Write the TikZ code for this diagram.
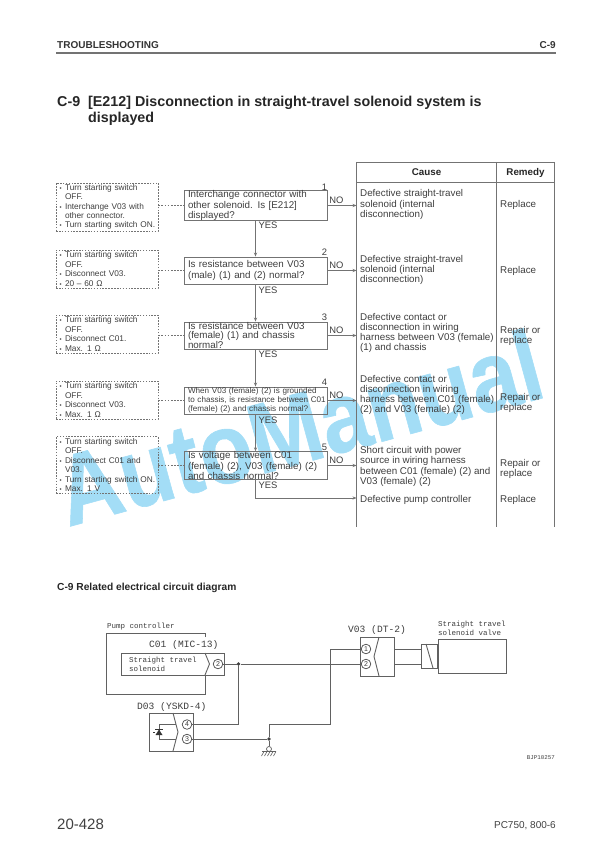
\documentclass[tikz,border=0pt]{standalone}
\usepackage{fontspec}
\setmainfont{Liberation Sans}
\newfontfamily\plotfont{Liberation Mono}
\newfontfamily\markfont[FakeBold=0.6]{Liberation Sans Bold}
\usetikzlibrary{arrows.meta}
\definecolor{inkgrey}{RGB}{62,62,62}
\definecolor{rulegrey}{RGB}{115,115,115}
\definecolor{wmblue}{RGB}{163,221,246}
\newcommand{\nb}{\makebox[6.5pt][l]{\hspace{1pt}\fontsize{6}{6}\selectfont\textbullet}}
\newcommand{\nh}{\hspace*{6.5pt}}
\newcommand{\fs}[2]{\fontsize{#1}{#2}\selectfont}
\tikzset{
  notebox/.style={draw=rulegrey,line width=0.7pt,dash pattern=on 1.6pt off 1.3pt,minimum width=102pt,inner sep=0pt,inner xsep=2.5pt,text width=97pt,align=left,text=inkgrey,font=\fs{8.3}{9.4}},
  chkbox/.style={draw=rulegrey,line width=0.9pt,minimum width=143pt,inner sep=0pt,inner xsep=4pt,text width=135pt,align=left,text=inkgrey,font=\fs{9.8}{8.9}},
  tabtext/.style={anchor=west,inner sep=0pt,align=left,text=inkgrey,font=\fs{9.8}{10.3}},
  headtext/.style={anchor=base,inner sep=0pt,font=\fs{9.8}{10}\bfseries,text=black!85},
  flowlabel/.style={inner sep=0pt,text=inkgrey,font=\fs{9.4}{10}},
  flowline/.style={draw=rulegrey,line width=0.8pt,-{Stealth[length=4pt,width=3.2pt]}},
  tieline/.style={draw=rulegrey,line width=0.7pt,dash pattern=on 1.8pt off 1.3pt},
  tabline/.style={draw=rulegrey,line width=0.8pt},
  wire/.style={draw=black!62,line width=0.9pt},
  pin/.style={circle,draw=black!70,line width=0.7pt,inner sep=0pt,minimum size=9.6pt,fill=white,font=\fs{7}{8},text=inkgrey},
  plotlabel/.style={inner sep=0pt,anchor=west,align=left,text=inkgrey,font=\plotfont\fs{7.5}{9}},
  conlabel/.style={inner sep=0pt,anchor=west,text=inkgrey,font=\plotfont\fs{9.6}{10}},
  joint/.style={circle,fill=black!75,inner sep=0pt,minimum size=3.6pt}
}
\begin{document}
\begin{tikzpicture}[x=1pt,y=-1pt,line cap=butt,line join=miter]
\useasboundingbox (0,0) rectangle (612,866);
\node[anchor=base west,rotate=15.2,inner sep=0pt,text=wmblue,font=\markfont\fs{87}{87}] (mark) at (68,527) {\scalebox{1}[1.15]{AutoManual}};
\node[anchor=west,inner sep=0pt,text=black!80,font=\fs{10}{11}\bfseries] (headl) at (57,45.5) {TROUBLESHOOTING};
\node[anchor=east,inner sep=0pt,text=black!80,font=\fs{10}{11}\bfseries] (headr) at (556,45.5) {C-9};
\coordinate (rulel) at (56,53);
\coordinate (ruler) at (556,53);
\draw[rulegrey,line width=1.4pt] (rulel) -- (ruler);
\node[anchor=west,inner sep=0pt,text=black!85,font=\fs{14.3}{15}\bfseries] (title) at (57,103) {\makebox[31pt][l]{C-9}[E212] Disconnection in straight-travel solenoid system is};
\node[anchor=west,inner sep=0pt,text=black!85,font=\fs{14.3}{15}\bfseries] (titleb) at (88,118.5) {displayed};
\coordinate (tabl) at (356.5,162);
\coordinate (tabm) at (496.5,162);
\coordinate (tabr) at (554.5,162);
\coordinate (tabbl) at (356.5,527);
\coordinate (tabbm) at (496.5,527);
\coordinate (tabbr) at (554.5,527);
\coordinate (rowl) at (356.5,182);
\coordinate (rowr) at (554.5,182);
\draw[tabline] (tabl) -- (tabr);
\draw[tabline] (rowl) -- (rowr);
\draw[tabline] (tabl) -- (tabbl);
\draw[tabline] (tabm) -- (tabbm);
\draw[tabline] (tabr) -- (tabbr);
\node[headtext] (cause) at (426.5,176) {Cause};
\node[headtext] (remedy) at (525.5,176) {Remedy};
\node[notebox,minimum height=48pt] (note1) at (107,207) {\nb Turn starting switch\\\nh OFF.\\\nb Interchange V03 with\\\nh other connector.\\\nb Turn starting switch ON.};
\node[notebox,minimum height=38pt] (note2) at (107,269) {\nb Turn starting switch\\\nh OFF.\\\nb Disconnect V03.\\\nb 20 – 60 Ω};
\node[notebox,minimum height=38pt] (note3) at (107,334) {\nb Turn starting switch\\\nh OFF.\\\nb Disconnect C01.\\\nb Max. 1 Ω};
\node[notebox,minimum height=38pt] (note4) at (107,400) {\nb Turn starting switch\\\nh OFF.\\\nb Disconnect V03.\\\nb Max. 1 Ω};
\node[notebox,minimum height=56.5pt] (note5) at (107,465) {\nb Turn starting switch\\\nh OFF.\\\nb Disconnect C01 and\\\nh V03.\\\nb Turn starting switch ON.\\\nb Max. 1 V};
\node[chkbox,minimum height=27pt] (chk1) at (255.5,205.5) {Interchange connector with\\other solenoid. Is [E212]\\displayed?};
\node[chkbox,minimum height=27pt,font=\fs{9.8}{10.6}] (chk2) at (255.5,270.5) {Is resistance between V03\\(male) (1) and (2) normal?};
\node[chkbox,minimum height=27pt] (chk3) at (255.5,335.5) {Is resistance between V03\\(female) (1) and chassis\\normal?};
\node[chkbox,minimum height=27pt,font=\fs{8.1}{8.9}] (chk4) at (255.5,400.5) {When V03 (female) (2) is grounded\\\makebox[135pt][l]{to chassis, is resistance between C01}\\(female) (2) and chassis normal?};
\node[chkbox,minimum height=27pt] (chk5) at (255.5,465.5) {Is voltage between C01\\(female) (2), V03 (female) (2)\\and chassis normal?};
\draw[tieline] (note1.east |- chk1.west) -- (chk1.west);
\draw[tieline] (note2.east |- chk2.west) -- (chk2.west);
\draw[tieline] (note3.east |- chk3.west) -- (chk3.west);
\draw[tieline] (note4.east |- chk4.west) -- (chk4.west);
\draw[tieline] (note5.east |- chk5.west) -- (chk5.west);
\draw[flowline] (chk1.south) -- (chk2.north);
\draw[flowline] (chk2.south) -- (chk3.north);
\draw[flowline] (chk3.south) -- (chk4.north);
\draw[flowline] (chk4.south) -- (chk5.north);
\coordinate (lastbend) at (255.5,498);
\draw[flowline] (chk5.south) -- (lastbend) -- (lastbend -| tabl);
\draw[flowline] (chk1.east) -- (chk1.east -| tabl);
\draw[flowline] (chk2.east) -- (chk2.east -| tabl);
\draw[flowline] (chk3.east) -- (chk3.east -| tabl);
\draw[flowline] (chk4.east) -- (chk4.east -| tabl);
\draw[flowline] (chk5.east) -- (chk5.east -| tabl);
\node[flowlabel] (num1) at (324.5,187.5) {1};
\node[flowlabel] (num2) at (324.5,252) {2};
\node[flowlabel] (num3) at (324.5,317) {3};
\node[flowlabel] (num4) at (324.5,382) {4};
\node[flowlabel] (num5) at (324.5,447) {5};
\node[flowlabel] (no1) at (336.5,200) {NO};
\node[flowlabel] (no2) at (336.5,265) {NO};
\node[flowlabel] (no3) at (336.5,330) {NO};
\node[flowlabel] (no4) at (336.5,395.5) {NO};
\node[flowlabel] (no5) at (336.5,460.5) {NO};
\node[flowlabel] (yes1) at (268,225) {YES};
\node[flowlabel] (yes2) at (268,290) {YES};
\node[flowlabel] (yes3) at (268,354.5) {YES};
\node[flowlabel] (yes4) at (268,420.5) {YES};
\node[flowlabel] (yes5) at (268,485.5) {YES};
\node[tabtext] (cause1) at (360,204.5) {Defective straight-travel\\solenoid (internal\\disconnection)};
\node[tabtext] (cause2) at (360,270) {Defective straight-travel\\solenoid (internal\\disconnection)};
\node[tabtext] (cause3) at (360,333) {Defective contact or\\disconnection in wiring\\harness between V03 (female)\\(1) and chassis};
\node[tabtext] (cause4) at (360,395) {Defective contact or\\disconnection in wiring\\harness between C01 (female)\\(2) and V03 (female) (2)};
\node[tabtext] (cause5) at (360,466.5) {Short circuit with power\\source in wiring harness\\between C01 (female) (2) and\\V03 (female) (2)};
\node[tabtext] (cause6) at (360,500) {Defective pump controller};
\node[tabtext] (fix1) at (500,204.5) {Replace};
\node[tabtext] (fix2) at (500,270.5) {Replace};
\node[tabtext] (fix3) at (500,336) {Repair or\\replace};
\node[tabtext] (fix4) at (500,403) {Repair or\\replace};
\node[tabtext] (fix5) at (500,469) {Repair or\\replace};
\node[tabtext] (fix6) at (500,500) {Replace};
\node[anchor=west,inner sep=0pt,text=black!85,font=\fs{10.2}{11}\bfseries] (sub) at (57,587.5) {C-9 Related electrical circuit diagram};
\node[plotlabel] (pumplab) at (107,627) {Pump controller};
\coordinate (pumpa) at (205,637);
\coordinate (pumpb) at (205,633);
\coordinate (pumpc) at (106,633);
\coordinate (pumpd) at (106,694);
\coordinate (pumpe) at (205,694);
\coordinate (pumpf) at (205,675);
\draw[wire] (pumpa) -- (pumpb) -- (pumpc) -- (pumpd) -- (pumpe) -- (pumpf);
\node[conlabel] (c01lab) at (149,645) {C01 (MIC-13)};
\node[draw=black!62,line width=0.9pt,minimum width=103pt,minimum height=22pt,inner sep=0pt] (c01) at (172.5,664) {};
\node[plotlabel] (c01text) at (129,664.5) {Straight travel\\solenoid};
\coordinate (chva) at (205,653);
\coordinate (chvb) at (209.5,664);
\coordinate (chvc) at (205,675);
\draw[wire] (chva) -- (chvb) -- (chvc);
\node[pin] (c01p) at (218,664) {2};
\node[conlabel] (d03lab) at (137,707) {D03 (YSKD-4)};
\node[draw=black!62,line width=0.9pt,minimum width=44pt,minimum height=38pt,inner sep=0pt] (d03) at (171,732) {};
\coordinate (dcha) at (173,713);
\coordinate (dchb) at (178,732);
\coordinate (dchc) at (173,751);
\draw[wire] (dcha) -- (dchb) -- (dchc);
\node[pin] (d03a) at (187,724.5) {4};
\node[pin] (d03b) at (187,739) {3};
\coordinate (dioa) at (159,724.5);
\coordinate (diob) at (159,739);
\coordinate (dioc) at (175.5,724.5);
\coordinate (diod) at (175.5,739);
\draw[wire] (dioc) -- (dioa) -- (diob) -- (diod);
\fill[black!80] (155.5,735) -- (162.5,735) -- (159,729.5) -- cycle;
\draw[black!80,line width=0.8pt] (155,729.5) -- (163,729.5);
\draw[black!80,line width=0.8pt] (155,732.5) -- (153,732.5);
\node[joint] (jta) at (238.5,664) {};
\node[joint] (jtb) at (269,739) {};
\node[draw=black!62,line width=0.9pt,minimum width=34pt,minimum height=39pt,inner sep=0pt] (v03) at (377,656.5) {};
\node[conlabel] (v03lab) at (348,630.5) {V03 (DT-2)};
\coordinate (vcha) at (379,637);
\coordinate (vchb) at (374,656.5);
\coordinate (vchc) at (379,676);
\draw[wire] (vcha) -- (vchb) -- (vchc);
\node[pin] (v03a) at (366,649) {1};
\node[pin] (v03b) at (366,664) {2};
\coordinate (wirea) at (238.5,724.5);
\coordinate (wirec) at (330,724.5);
\coordinate (wireb) at (269,724.5);
\coordinate (wired) at (330,649);
\draw[wire] (c01p.east) -- (jta) -- (v03b.west);
\draw[wire] (jta) -- (wirea) -- (d03a.east);
\draw[wire] (d03b.east) -- (jtb);
\draw[wire] (jtb) -- (wireb) -- (wirec) -- (wired) -- (v03a.west);
\node[circle,draw=black!62,line width=0.7pt,inner sep=0pt,minimum size=5pt] (gnd) at (269,749) {};
\draw[wire] (jtb) -- (gnd);
\coordinate (gnda) at (262,751.5);
\coordinate (gndb) at (276,751.5);
\draw[black!62,line width=0.9pt] (gnda) -- (gndb);
\draw[black!62,line width=0.6pt] (264,751.5) -- (261.5,756) (267,751.5) -- (264.5,756) (270,751.5) -- (267.5,756) (273,751.5) -- (270.5,756) (276,751.5) -- (273.5,756);
\node[draw=black!62,line width=0.9pt,minimum width=16pt,minimum height=24pt,inner sep=0pt] (plug) at (429,656) {};
\node[draw=black!62,line width=0.9pt,fill=white,minimum width=68pt,minimum height=34pt,inner sep=0pt] (valve) at (472,656) {};
\coordinate (slasha) at (426,644);
\coordinate (slashb) at (433,668);
\draw[wire] (slasha) -- (slashb);
\draw[wire] (v03.east |- v03a) -- (plug.west |- v03a);
\draw[wire] (v03.east |- v03b) -- (plug.west |- v03b);
\node[plotlabel] (valvelab) at (438,628.5) {Straight travel\\solenoid valve};
\node[anchor=east,inner sep=0pt,text=inkgrey,font=\plotfont\fs{5.8}{7}] (figno) at (555,757.5) {BJP10257};
\node[anchor=west,inner sep=0pt,text=black!75,font=\fs{15}{18}] (pagel) at (57,824) {20-428};
\node[anchor=east,inner sep=0pt,text=black!75,font=\fs{10}{12}] (pager) at (556,826) {PC750, 800-6};
\end{tikzpicture}
\end{document}
